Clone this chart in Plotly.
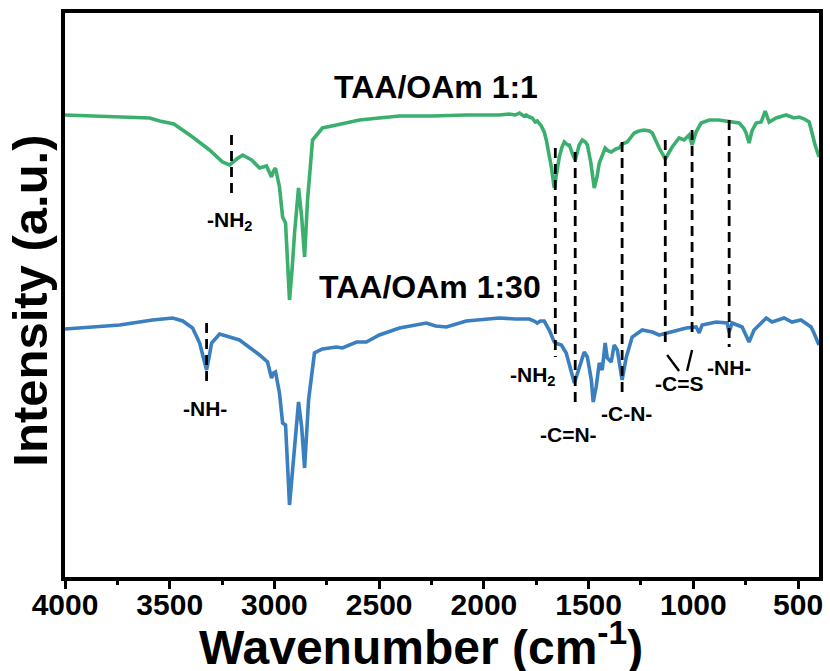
import plotly.graph_objects as go

# ---- data (wavenumber cm^-1, intensity a.u.) ----
green_wn = [4000, 3834, 3700, 3596, 3548, 3480, 3391, 3310, 3248, 3214, 3180, 3152, 3109, 3071,
            3038, 3025, 3014, 3005, 2995, 2976, 2961, 2947, 2928, 2915, 2904, 2885, 2870, 2856,
            2842, 2818, 2771, 2704, 2594, 2500, 2403, 2246, 2084, 1926, 1879, 1850, 1830, 1810,
            1798, 1783, 1769, 1755, 1745, 1726, 1712, 1702, 1688, 1678, 1664, 1650, 1640, 1627,
            1616, 1600, 1592, 1575, 1564, 1545, 1530, 1515, 1506, 1490, 1478, 1473, 1460, 1449,
            1421, 1405, 1392, 1370, 1354, 1340, 1316, 1282, 1260, 1235, 1210, 1196, 1163, 1134,
            1101, 1068, 1044, 1020, 1006, 987, 963, 924, 880, 829, 781, 760, 748, 734, 720, 700,
            676, 657, 645, 638, 605, 580, 557, 520, 495, 470, 447, 433, 420, 400]
green_int = [462, 461, 460, 459, 456, 453, 440, 427, 415, 412, 418, 422, 417, 409,
             411, 406, 400, 406, 409, 390, 360, 354, 277, 310, 344, 389, 360, 320,
             377, 437, 449, 452, 457, 459, 461, 461, 462, 462, 463, 462, 464, 461,
             462, 460, 459, 455, 456, 451, 445, 437, 422, 410, 389, 410, 420, 430,
             435, 432, 432, 422, 417, 432, 437, 435, 432, 415, 392, 389, 400, 414,
             429, 426, 425, 428, 429, 433, 435, 444, 446, 447, 446, 444, 429, 418,
             430, 439, 437, 442, 432, 445, 454, 457, 457, 455, 454, 449, 444, 434, 446, 454,
             455, 466, 457, 455, 459, 461, 462, 459, 460, 458, 455, 444, 433, 420]

blue_wn = [4000, 3739, 3582, 3486, 3438, 3391, 3357, 3340, 3324, 3312, 3300, 3262, 3167, 3071,
           3033, 3014, 3005, 2995, 2976, 2961, 2947, 2928, 2915, 2904, 2885, 2870, 2856, 2837,
           2809, 2771, 2704, 2675, 2608, 2561, 2499, 2403, 2275, 2230, 2179, 2084, 1926, 1850,
           1783, 1760, 1745, 1730, 1712, 1688, 1664, 1645, 1630, 1607, 1583, 1568, 1545, 1521,
           1506, 1487, 1478, 1464, 1449, 1435, 1421, 1411, 1392, 1378, 1363, 1350, 1340, 1320,
           1292, 1244, 1196, 1163, 1101, 1034, 987, 972, 958, 891, 839, 829, 815, 767, 734,
           710, 652, 624, 567, 529, 486, 438, 424, 400]
blue_int = [248, 252, 257, 259, 256, 249, 234, 220, 207, 220, 234, 243, 237, 222,
            215, 199, 204, 205, 184, 154, 152, 72, 105, 137, 175, 150, 109, 177,
            224, 228, 230, 229, 235, 235, 242, 249, 254, 251, 250, 256, 259, 258,
            258, 256, 254, 256, 256, 247, 235, 233, 232, 224, 205, 194, 209, 225,
            220, 197, 175, 190, 214, 207, 234, 219, 215, 232, 227, 210, 197, 220,
            240, 247, 245, 242, 245, 249, 250, 244, 252, 255, 254, 245, 254, 250, 235,
            247, 259, 255, 259, 255, 257, 250, 244, 232]

series_names = ["TAA/OAm 1:1", "TAA/OAm 1:30"]
series_colors = ["#3BB06E", "#3A7FBF"]

# band assignments
band_wn = [1659, 1564, 1340, 1134, 1006, 829]
band_top = [429, 425, 435, 437, 447, 457]
band_bottom = [220, 170, 185, 234, 242, 230]

xtick_vals = [4000, 3500, 3000, 2500, 2000, 1500, 1000, 500]

FONT = "Arial, 'Liberation Sans', sans-serif"

fig = go.Figure()
fig.add_trace(go.Scatter(x=green_wn, y=green_int, mode="lines", name=series_names[0],
                         line=dict(color=series_colors[0], width=3.6), showlegend=False))
fig.add_trace(go.Scatter(x=blue_wn, y=blue_int, mode="lines", name=series_names[1],
                         line=dict(color=series_colors[1], width=3.6), showlegend=False))

# dashed guide lines
dx, dy = [], []
for w, t, b in zip(band_wn, band_top, band_bottom):
    dx += [w, w, None]
    dy += [t, b, None]
# short markers: green -NH2 and blue -NH-
dx += [3205, 3205, None, 3324, 3324, None]
dy += [442, 380, None, 254, 192, None]
fig.add_trace(go.Scatter(x=dx, y=dy, mode="lines", showlegend=False, hoverinfo="skip",
                         line=dict(color="black", width=2.8, dash="10px,6px")))
# C=S connectors
fig.add_trace(go.Scatter(x=[1125, 1068, None, 1006, 1030], y=[222, 206, None, 227, 206],
                         mode="lines", showlegend=False, hoverinfo="skip",
                         line=dict(color="black", width=2.4)))

labels = [
    ("<b>TAA/OAm 1:1</b>", 2227, 490, 32),
    ("<b>TAA/OAm 1:30</b>", 2256, 290, 32),
    ("<b>-NH<sub>2</sub></b>", 3210, 356, 21),
    ("<b>-NH-</b>", 3333, 169, 21),
    ("<b>-NH<sub>2</sub></b>", 1764, 201, 21),
    ("<b>-C=N-</b>", 1597, 143, 21),
    ("<b>-C-N-</b>", 1320, 164, 21),
    ("<b>-C=S</b>", 1068, 194, 21),
    ("<b>-NH-</b>", 829, 210, 21),
]
for txt, x, y, s in labels:
    fig.add_annotation(x=x, y=y, text=txt, showarrow=False, xanchor="center", yanchor="middle",
                       font=dict(family=FONT, size=s, color="black"))

# axis titles
fig.add_annotation(xref="paper", yref="paper", x=0.472, y=0, yshift=-67,
                   text="<b>Wavenumber (cm<sup>-1</sup>)</b>", showarrow=False,
                   xanchor="center", yanchor="middle", font=dict(family=FONT, size=48, color="black"))
fig.add_annotation(xref="paper", yref="paper", x=0, y=0.49, xshift=-35, textangle=-90,
                   text="<b>Intensity (a.u.)</b>", showarrow=False,
                   xanchor="center", yanchor="middle", font=dict(family=FONT, size=49, color="black"))

fig.update_layout(
    width=830, height=671,
    margin=dict(l=65, r=11, t=13, b=94),
    paper_bgcolor="white", plot_bgcolor="white",
    font=dict(family=FONT, color="black"),
)
fig.update_xaxes(
    range=[4000, 400], tickvals=xtick_vals, ticktext=[f"<b>{v}</b>" for v in xtick_vals],
    tickfont=dict(size=30, family=FONT), ticks="outside", ticklen=8, tickwidth=3, tickcolor="black",
    ticklabelstandoff=-10,
    minor=dict(dtick=250, tick0=0, ticks="outside", ticklen=4, tickwidth=3, tickcolor="black"),
    showline=True, linewidth=3.5, linecolor="black", mirror=True, showgrid=False, zeroline=False,
    automargin=False,
)
fig.update_yaxes(
    range=[0, 564], showticklabels=False, ticks="",
    showline=True, linewidth=3.5, linecolor="black", mirror=True, showgrid=False, zeroline=False,
    automargin=False,
)

fig.write_html("out.html", config={"displayModeBar": False},
               post_script="document.body.style.margin='0px';document.body.style.overflow='hidden';")
